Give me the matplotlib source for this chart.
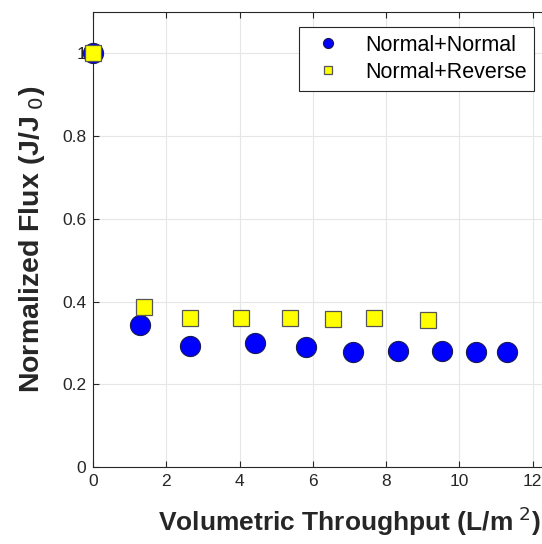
import matplotlib
matplotlib.use("Agg")
import matplotlib.pyplot as plt
from matplotlib.ticker import FuncFormatter

plt.rcParams['font.family'] = ['Liberation Sans', 'DejaVu Sans']

# Normal+Normal
nn_x = [0.0, 1.28, 2.64, 4.41, 5.82, 7.09, 8.32, 9.52, 10.44, 11.29]
nn_y = [1.0, 0.343, 0.292, 0.299, 0.290, 0.279, 0.281, 0.281, 0.278, 0.278]

# Normal+Reverse
nr_x = [0.0, 1.39, 2.64, 4.05, 5.37, 6.55, 7.68, 9.14]
nr_y = [1.0, 0.387, 0.361, 0.361, 0.361, 0.359, 0.361, 0.355]

fig = plt.figure(figsize=(5.42, 5.44), dpi=100)
# the original axes runs to x=14, past the right edge of the picture
ax = fig.add_axes([93 / 542, 1 - 467 / 544, 513 / 542, 455 / 544])

ax.plot(nn_x, nn_y, linestyle='none', marker='o', markersize=14.5,
        markerfacecolor='#0000ff', markeredgecolor='#1a1a50', markeredgewidth=0.8,
        label='Normal+Normal', clip_on=False, zorder=3)
ax.plot(nr_x, nr_y, linestyle='none', marker='s', markersize=11.5,
        markerfacecolor='#ffff00', markeredgecolor='#555555', markeredgewidth=0.9,
        label='Normal+Reverse', clip_on=False, zorder=4)

ax.set_xlim(0, 14)
ax.set_ylim(0, 1.1)
ax.set_xticks([0, 2, 4, 6, 8, 10, 12, 14])
ax.set_yticks([0, 0.2, 0.4, 0.6, 0.8, 1.0])
ax.yaxis.set_major_formatter(FuncFormatter(lambda v, p: f"{v:g}"))
ax.tick_params(direction='in', top=True, right=True, labelsize=12.5,
               colors='#262626', length=4, pad=5)
ax.grid(True, color='#e6e6e6', linewidth=0.8)
ax.set_axisbelow(True)
for s in ax.spines.values():
    s.set_color('#262626')

ax.set_xlabel('Volumetric Throughput (L/m$^{\\ 2}$)', fontsize=19, fontweight='bold',
              color='#262626', labelpad=11)
ax.set_ylabel('Normalized Flux (J/J$_{\\ 0}$)', fontsize=20.5, fontweight='bold',
              color='#262626', labelpad=11)

leg = ax.legend(loc='upper right', bbox_to_anchor=(534 / 542, 1 - 27 / 544),
                bbox_transform=fig.transFigure, fontsize=15.5,
                markerscale=0.5, fancybox=False, edgecolor='#262626',
                framealpha=1, borderpad=0.35, handlelength=2.0,
                handletextpad=0.7, labelspacing=0.3, borderaxespad=0)
leg.get_frame().set_linewidth(0.8)

fig.savefig('out.png', dpi=100)
